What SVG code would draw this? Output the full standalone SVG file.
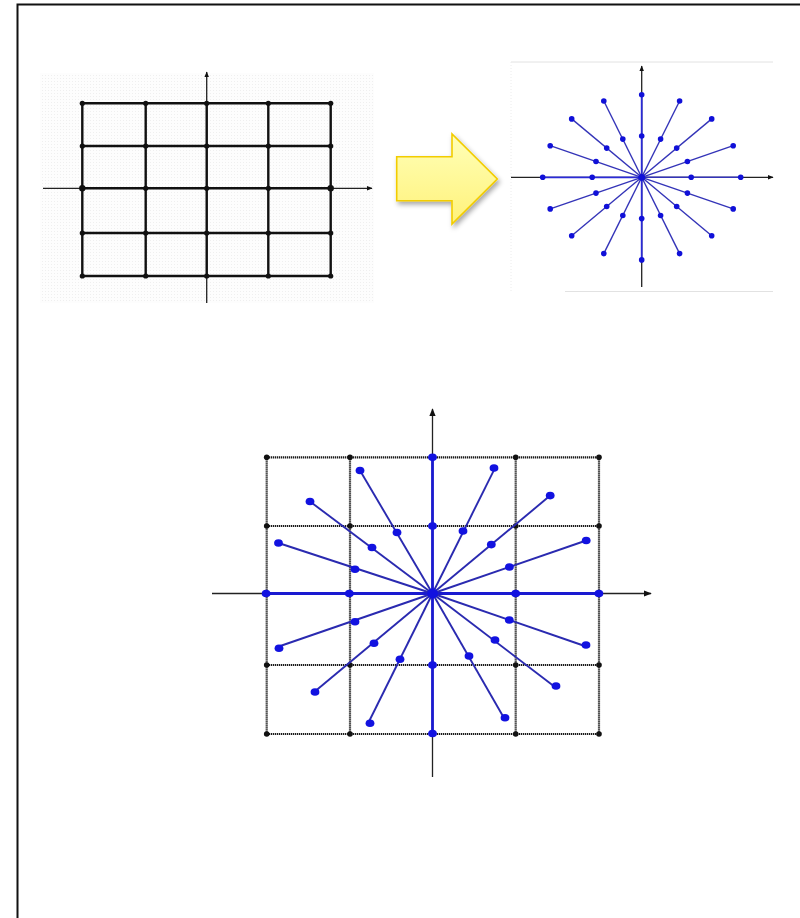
<svg xmlns="http://www.w3.org/2000/svg" width="800" height="918" viewBox="0 0 800 918">
<defs>
<style>
.frame{fill:none;stroke:#111;stroke-width:2}
.g1{stroke:#111;stroke-width:2.4;fill:none}
.ax{stroke:#222;stroke-width:1.3;fill:none}
.d1{fill:#111}
.ray1{stroke:#3434b8;stroke-width:1.4;fill:none}
.bd1{fill:#1010d8}
.grid2{stroke:#1a1a1a;stroke-width:2.2;stroke-dasharray:1.3 0.7;fill:none}
.ray2{stroke:#2a2ab0;stroke-width:1.9;fill:none}
.axb{stroke:#1a1ad0;stroke-width:2.8;fill:none}
.bd2{fill:#1212e0}
.d2{fill:#111}
</style>
<marker id="ah" viewBox="0 0 10 10" refX="9" refY="5" markerWidth="6" markerHeight="6" orient="auto" markerUnits="userSpaceOnUse">
<path d="M0,1 L10,5 L0,9 Z" fill="#111"/>
</marker>
<marker id="ah2" viewBox="0 0 10 10" refX="9" refY="5" markerWidth="8" markerHeight="8" orient="auto" markerUnits="userSpaceOnUse">
<path d="M0,1 L10,5 L0,9 Z" fill="#111"/>
</marker>
<linearGradient id="yg" x1="0" y1="0" x2="0" y2="1">
<stop offset="0" stop-color="#ffffb8"/>
<stop offset="1" stop-color="#fff27a"/>
</linearGradient>
<filter id="sh" x="-20%" y="-20%" width="150%" height="150%">
<feDropShadow dx="2" dy="3" stdDeviation="2.5" flood-color="#000" flood-opacity="0.35"/>
</filter>
<pattern id="dots" width="3" height="3" patternUnits="userSpaceOnUse">
<rect width="3" height="3" fill="#fdfdfd"/>
<rect width="1" height="1" fill="#efefef"/>
</pattern>
</defs>
<rect width="800" height="918" fill="#fff"/>
<path class="frame" d="M17.5,918 V4.5 H800"/>

<g id="grid-cartesian">
<rect x="40" y="73" width="334" height="230" fill="url(#dots)"/>
<line class="ax" x1="43" y1="188.3" x2="372" y2="188.3" marker-end="url(#ah)"/>
<line class="ax" x1="206.7" y1="303" x2="206.7" y2="72" marker-end="url(#ah)"/>
<g class="g1">
<line x1="82.3" y1="103.3" x2="330.7" y2="103.3"/>
<line x1="82.3" y1="146" x2="330.7" y2="146"/>
<line x1="82.3" y1="188.3" x2="330.7" y2="188.3"/>
<line x1="82.3" y1="233" x2="330.7" y2="233"/>
<line x1="82.3" y1="276" x2="330.7" y2="276"/>
<line x1="82.3" y1="103.3" x2="82.3" y2="276"/>
<line x1="145.7" y1="103.3" x2="145.7" y2="276"/>
<line x1="206.7" y1="103.3" x2="206.7" y2="276"/>
<line x1="268.3" y1="103.3" x2="268.3" y2="276"/>
<line x1="330.7" y1="103.3" x2="330.7" y2="276"/>
</g>
<g class="d1">
<circle cx="82.3" cy="103.3" r="2.6"/><circle cx="145.7" cy="103.3" r="2.6"/><circle cx="206.7" cy="103.3" r="2.6"/><circle cx="268.3" cy="103.3" r="2.6"/><circle cx="330.7" cy="103.3" r="2.6"/>
<circle cx="82.3" cy="146" r="2.6"/><circle cx="145.7" cy="146" r="2.6"/><circle cx="206.7" cy="146" r="2.6"/><circle cx="268.3" cy="146" r="2.6"/><circle cx="330.7" cy="146" r="2.6"/>
<circle cx="82.3" cy="188.3" r="3.2"/><circle cx="145.7" cy="188.3" r="2.6"/><circle cx="206.7" cy="188.3" r="2.6"/><circle cx="268.3" cy="188.3" r="2.6"/><circle cx="330.7" cy="188.3" r="3.2"/>
<circle cx="82.3" cy="233" r="2.6"/><circle cx="145.7" cy="233" r="2.6"/><circle cx="206.7" cy="233" r="2.6"/><circle cx="268.3" cy="233" r="2.6"/><circle cx="330.7" cy="233" r="2.6"/>
<circle cx="82.3" cy="276" r="2.6"/><circle cx="145.7" cy="276" r="2.6"/><circle cx="206.7" cy="276" r="2.6"/><circle cx="268.3" cy="276" r="2.6"/><circle cx="330.7" cy="276" r="2.6"/>
</g>
</g>

<g id="arrow">
<path d="M396.7,156.7 H452 V134 L497.3,179 L452,224 V200.7 H396.7 Z" fill="url(#yg)" stroke="#f2cc00" stroke-width="1.6" stroke-linejoin="miter" filter="url(#sh)"/>
</g>

<g id="star-polar">
<path d="M511,62 H773 M565,291.5 H773" stroke="#e2e2e2" stroke-width="1" fill="none"/>
<path d="M511,62 V291" stroke="#ececec" stroke-width="1" stroke-dasharray="1 2" fill="none"/>
<line class="ax" x1="511" y1="177.3" x2="773" y2="177.3" marker-end="url(#ah)"/>
<line class="ax" x1="641.7" y1="287" x2="641.7" y2="66" marker-end="url(#ah)"/>
<g class="ray1">
<line x1="641.7" y1="177.3" x2="740.7" y2="177.3"/>
<line x1="641.7" y1="177.3" x2="733.2" y2="145.7"/>
<line x1="641.7" y1="177.3" x2="711.7" y2="118.9"/>
<line x1="641.7" y1="177.3" x2="679.6" y2="101"/>
<line x1="641.7" y1="177.3" x2="641.7" y2="94.7" stroke="#2a2ad8" stroke-width="1.8"/>
<line x1="641.7" y1="177.3" x2="603.8" y2="101"/>
<line x1="641.7" y1="177.3" x2="571.7" y2="118.9"/>
<line x1="641.7" y1="177.3" x2="550.2" y2="145.7"/>
<line x1="641.7" y1="177.3" x2="542.7" y2="177.3" stroke="#2a2ad8" stroke-width="1.8"/>
<line x1="641.7" y1="177.3" x2="550.2" y2="208.9"/>
<line x1="641.7" y1="177.3" x2="571.7" y2="235.7"/>
<line x1="641.7" y1="177.3" x2="603.8" y2="253.6"/>
<line x1="641.7" y1="177.3" x2="641.7" y2="259.9" stroke="#2a2ad8" stroke-width="1.8"/>
<line x1="641.7" y1="177.3" x2="679.6" y2="253.6"/>
<line x1="641.7" y1="177.3" x2="711.7" y2="235.7"/>
<line x1="641.7" y1="177.3" x2="733.2" y2="208.9"/>
</g>
<g class="bd1">
<circle cx="641.7" cy="177.3" r="3.4"/>
<circle cx="740.7" cy="177.3" r="2.8"/><circle cx="691.2" cy="177.3" r="2.8"/>
<circle cx="733.2" cy="145.7" r="2.8"/><circle cx="687.4" cy="161.5" r="2.8"/>
<circle cx="711.7" cy="118.9" r="2.8"/><circle cx="676.7" cy="148.1" r="2.8"/>
<circle cx="679.6" cy="101" r="2.8"/><circle cx="660.6" cy="139.1" r="2.8"/>
<circle cx="641.7" cy="94.7" r="2.8"/><circle cx="641.7" cy="136" r="2.8"/>
<circle cx="603.8" cy="101" r="2.8"/><circle cx="622.8" cy="139.1" r="2.8"/>
<circle cx="571.7" cy="118.9" r="2.8"/><circle cx="606.7" cy="148.1" r="2.8"/>
<circle cx="550.2" cy="145.7" r="2.8"/><circle cx="596" cy="161.5" r="2.8"/>
<circle cx="542.7" cy="177.3" r="2.8"/><circle cx="592.2" cy="177.3" r="2.8"/>
<circle cx="550.2" cy="208.9" r="2.8"/><circle cx="596" cy="193.1" r="2.8"/>
<circle cx="571.7" cy="235.7" r="2.8"/><circle cx="606.7" cy="206.5" r="2.8"/>
<circle cx="603.8" cy="253.6" r="2.8"/><circle cx="622.8" cy="215.5" r="2.8"/>
<circle cx="641.7" cy="259.9" r="2.8"/><circle cx="641.7" cy="218.6" r="2.8"/>
<circle cx="679.6" cy="253.6" r="2.8"/><circle cx="660.6" cy="215.5" r="2.8"/>
<circle cx="711.7" cy="235.7" r="2.8"/><circle cx="676.7" cy="206.5" r="2.8"/>
<circle cx="733.2" cy="208.9" r="2.8"/><circle cx="687.4" cy="193.1" r="2.8"/>
</g>
</g>

<g id="overlay">
<line class="ax" x1="212" y1="593.5" x2="651" y2="593.5" stroke-width="1.6" marker-end="url(#ah2)"/>
<line class="ax" x1="432.5" y1="777" x2="432.5" y2="409" stroke-width="1.6" marker-end="url(#ah2)"/>
<g class="grid2">
<line x1="266.7" y1="457.3" x2="599" y2="457.3"/>
<line x1="266.7" y1="526" x2="599" y2="526"/>
<line x1="266.7" y1="665" x2="599" y2="665"/>
<line x1="266.7" y1="734" x2="599" y2="734"/>
<line x1="266.7" y1="457.3" x2="266.7" y2="734"/>
<line x1="350" y1="457.3" x2="350" y2="734"/>
<line x1="515.7" y1="457.3" x2="515.7" y2="734"/>
<line x1="599" y1="457.3" x2="599" y2="734"/>
</g>
<g class="d2">
<circle cx="266.7" cy="457.3" r="2.8"/><circle cx="350" cy="457.3" r="2.8"/><circle cx="515.7" cy="457.3" r="2.8"/><circle cx="599" cy="457.3" r="2.8"/>
<circle cx="266.7" cy="526" r="2.8"/><circle cx="350" cy="526" r="2.8"/><circle cx="515.7" cy="526" r="2.8"/><circle cx="599" cy="526" r="2.8"/>
<circle cx="266.7" cy="665" r="2.8"/><circle cx="350" cy="665" r="2.8"/><circle cx="515.7" cy="665" r="2.8"/><circle cx="599" cy="665" r="2.8"/>
<circle cx="266.7" cy="734" r="2.8"/><circle cx="350" cy="734" r="2.8"/><circle cx="515.7" cy="734" r="2.8"/><circle cx="599" cy="734" r="2.8"/>
</g>
<path class="axb" d="M266.7,593.5 H599 M432.5,457.3 V734"/>
<g class="ray2">
<line x1="432.5" y1="593.5" x2="586.2" y2="540.5"/>
<line x1="432.5" y1="593.5" x2="550.2" y2="495.6"/>
<line x1="432.5" y1="593.5" x2="496.2" y2="465.6"/>
<line x1="432.5" y1="593.5" x2="360" y2="470.5"/>
<line x1="432.5" y1="593.5" x2="310" y2="501.5"/>
<line x1="432.5" y1="593.5" x2="278.5" y2="543"/>
<line x1="432.5" y1="593.5" x2="278.8" y2="646.5"/>
<line x1="432.5" y1="593.5" x2="314.8" y2="691.4"/>
<line x1="432.5" y1="593.5" x2="369" y2="721.5"/>
<line x1="432.5" y1="593.5" x2="504" y2="718"/>
<line x1="432.5" y1="593.5" x2="555" y2="687"/>
<line x1="432.5" y1="593.5" x2="586.2" y2="646.5"/>
</g>
<g class="bd2">
<ellipse cx="432.5" cy="593.5" rx="5.5" ry="5"/>
<ellipse cx="598.9" cy="593.5" rx="4.4" ry="3.8"/><ellipse cx="515.7" cy="593.5" rx="4.4" ry="3.8"/>
<ellipse cx="266.1" cy="593.5" rx="4.4" ry="3.8"/><ellipse cx="349.3" cy="593.5" rx="4.4" ry="3.8"/>
<ellipse cx="432.5" cy="457.3" rx="4.4" ry="3.8"/><ellipse cx="432.5" cy="526" rx="4.4" ry="3.8"/>
<ellipse cx="432.5" cy="665" rx="4.4" ry="3.8"/><ellipse cx="432.5" cy="733.5" rx="4.4" ry="3.8"/>
<ellipse cx="586.2" cy="540.5" rx="4.4" ry="3.8"/><ellipse cx="509.4" cy="567" rx="4.4" ry="3.8"/>
<ellipse cx="550.2" cy="495.6" rx="4.4" ry="3.8"/><ellipse cx="491.3" cy="544.6" rx="4.4" ry="3.8"/>
<ellipse cx="494" cy="468" rx="4.4" ry="3.8"/><ellipse cx="463" cy="531" rx="4.4" ry="3.8"/>
<ellipse cx="360" cy="470.5" rx="4.4" ry="3.8"/><ellipse cx="397" cy="532.5" rx="4.4" ry="3.8"/>
<ellipse cx="310" cy="501.5" rx="4.4" ry="3.8"/><ellipse cx="372" cy="547.5" rx="4.4" ry="3.8"/>
<ellipse cx="278.5" cy="543" rx="4.4" ry="3.8"/><ellipse cx="355" cy="569.3" rx="4.4" ry="3.8"/>
<ellipse cx="279" cy="648.3" rx="4.4" ry="3.8"/><ellipse cx="355" cy="621.7" rx="4.4" ry="3.8"/>
<ellipse cx="315" cy="692" rx="4.4" ry="3.8"/><ellipse cx="374" cy="643.3" rx="4.4" ry="3.8"/>
<ellipse cx="370" cy="723.3" rx="4.4" ry="3.8"/><ellipse cx="400" cy="659.3" rx="4.4" ry="3.8"/>
<ellipse cx="505" cy="717.7" rx="4.4" ry="3.8"/><ellipse cx="469" cy="656" rx="4.4" ry="3.8"/>
<ellipse cx="556" cy="686" rx="4.4" ry="3.8"/><ellipse cx="495" cy="640" rx="4.4" ry="3.8"/>
<ellipse cx="586" cy="645" rx="4.4" ry="3.8"/><ellipse cx="509.3" cy="620" rx="4.4" ry="3.8"/>
</g>
</g>
</svg>
